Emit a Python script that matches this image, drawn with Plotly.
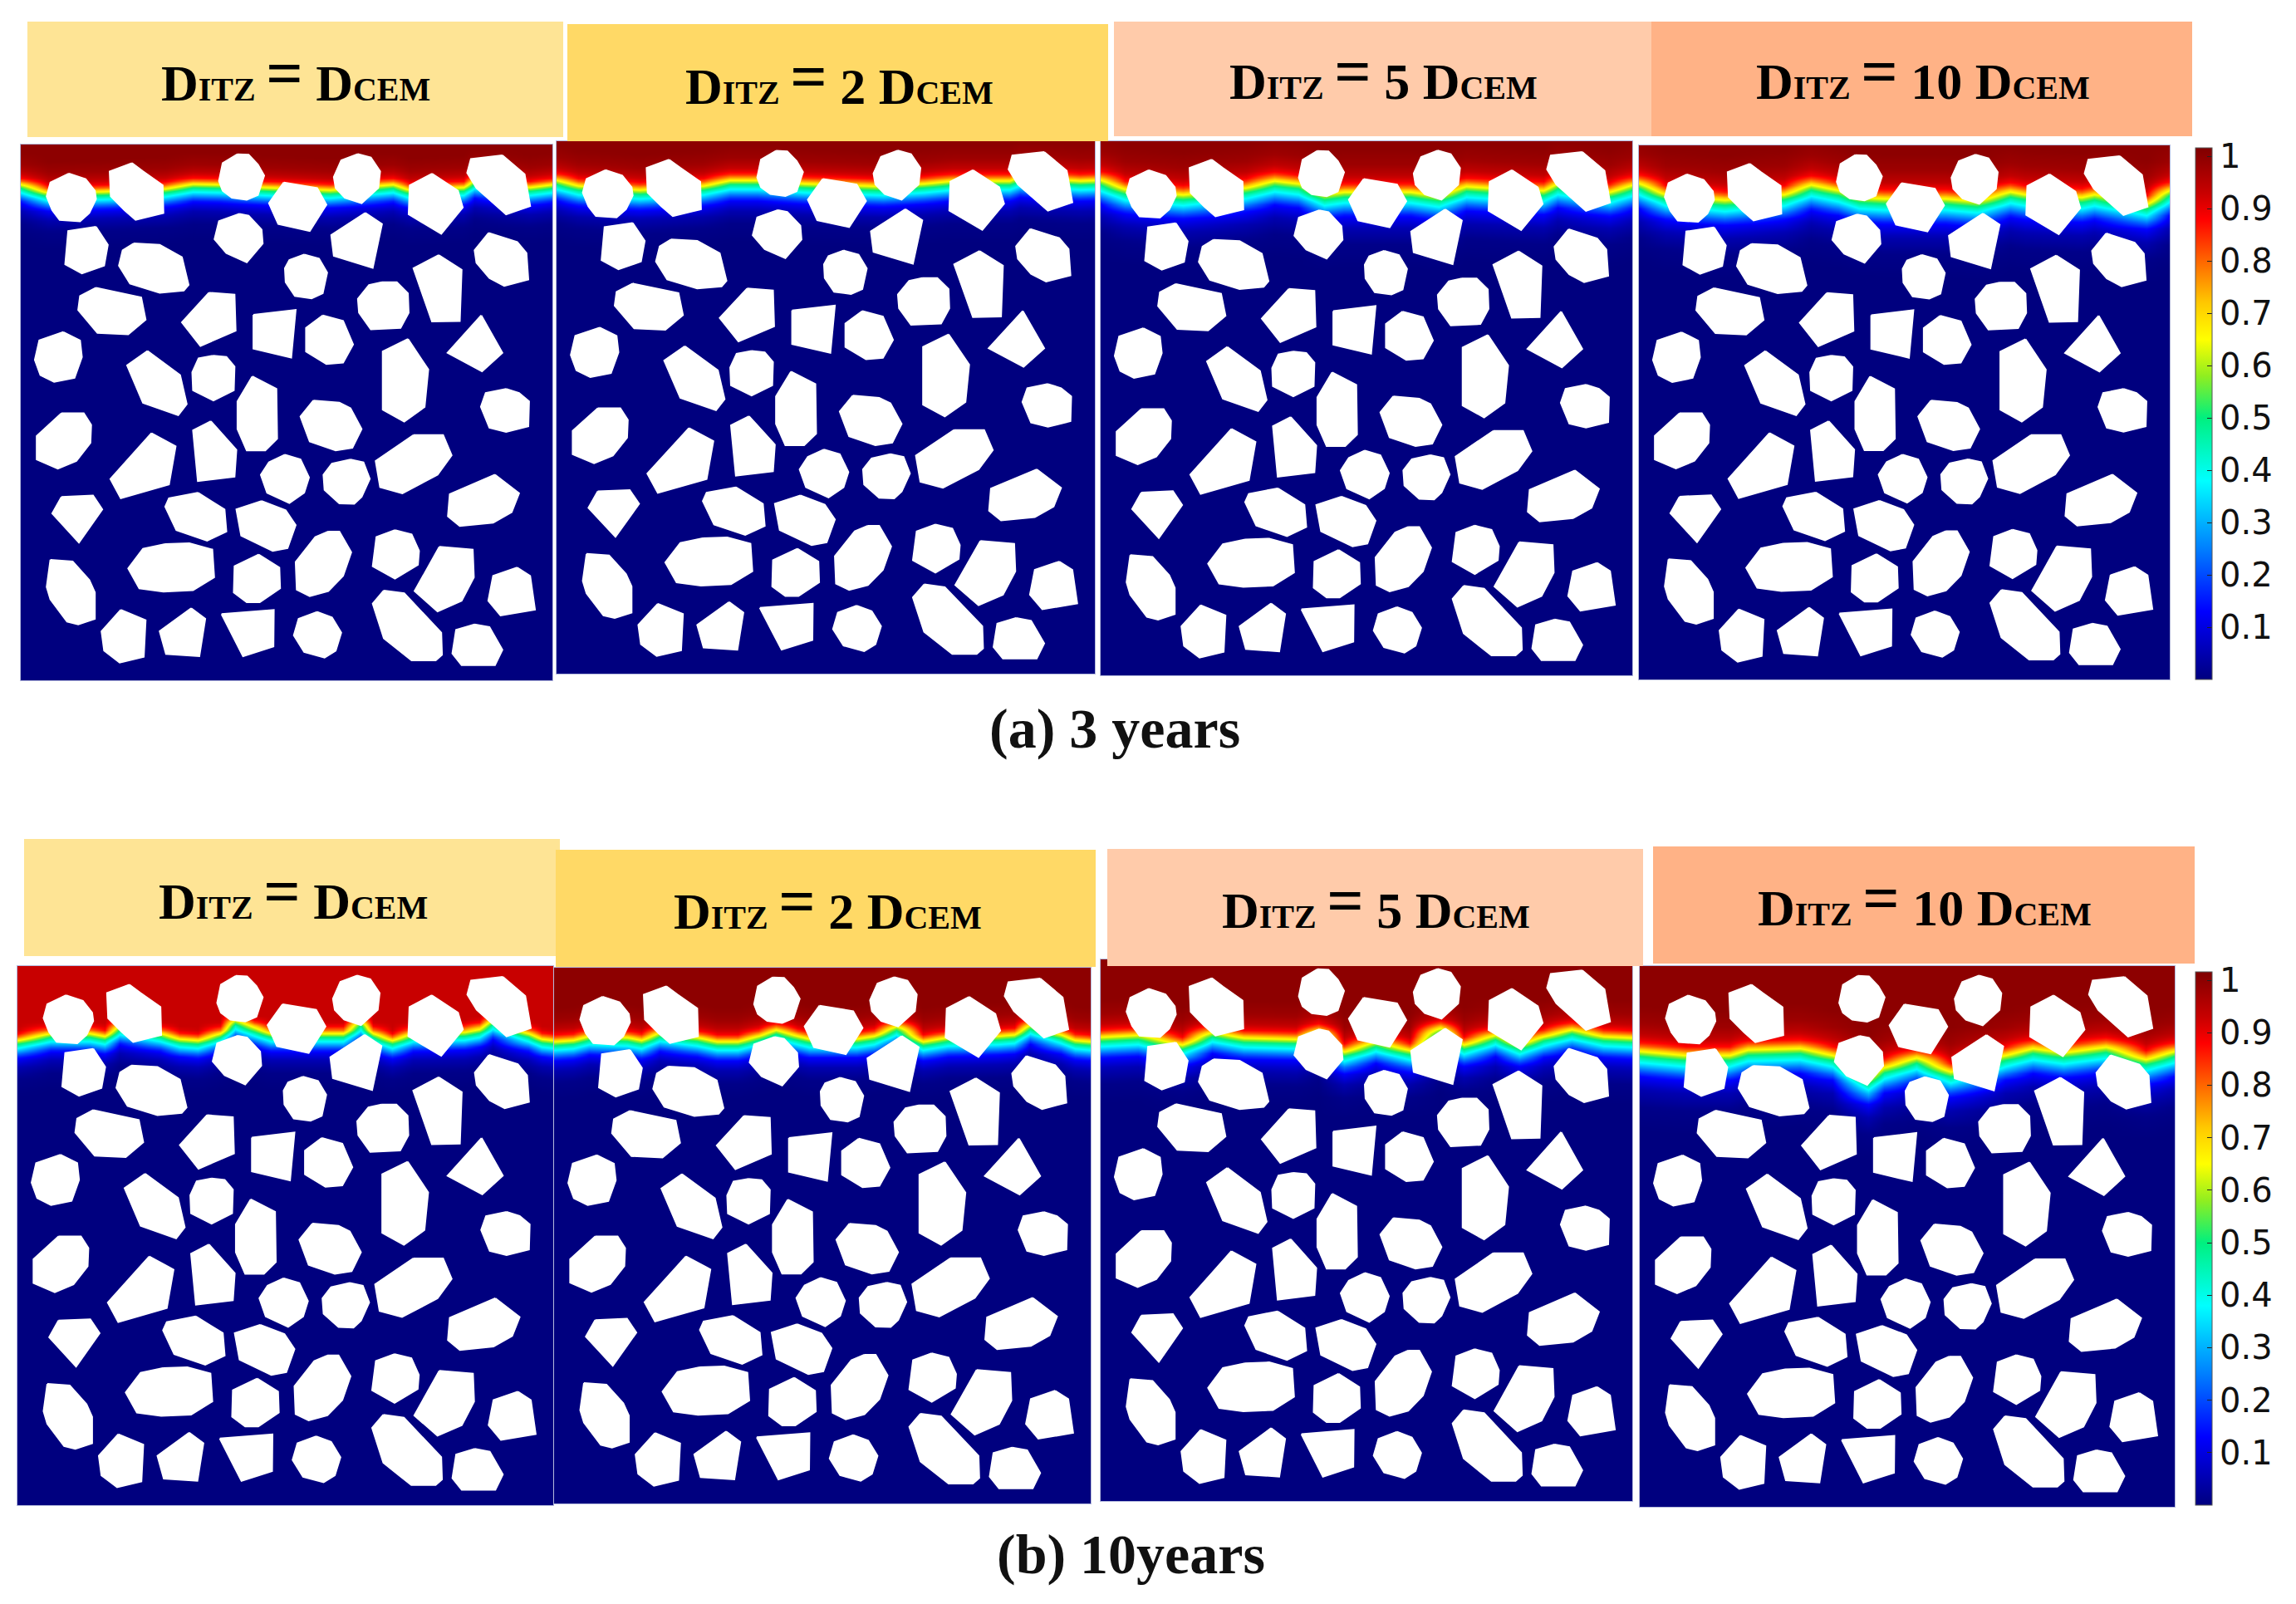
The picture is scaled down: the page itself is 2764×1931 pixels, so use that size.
import numpy as np
import plotly.graph_objects as go

# Canvas size of the reference
W, H = 2764, 1931

# Panel rectangles in canvas pixels: left, right, top, bottom
PANELS = [
    (25, 665, 174, 819), (670, 1318, 170, 811), (1325, 1965, 170, 813), (1973, 2612, 175, 818),
    (21, 666, 1163, 1812), (667, 1313, 1165, 1810), (1325, 1965, 1155, 1807), (1974, 2618, 1163, 1814),
]
# Header boxes: left, right, top, bottom, colour
HEADERS = [
    (33, 678, 26, 165, "#FEE495"), (683, 1334, 29, 170, "#FFD966"), (1341, 1988, 26, 164, "#FFCBAA"), (1988, 2639, 26, 164, "#FFB286"),
    (29, 674, 1010, 1151, "#FEE495"), (669, 1319, 1023, 1164, "#FFD966"), (1333, 1978, 1022, 1163, "#FFCBAA"), (1990, 2642, 1019, 1160, "#FFB286"),
]
HEADER_MULT = ["", "2 ", "5 ", "10 ", "", "2 ", "5 ", "10 "]
HEADER_CX = [356, 1010, 1665, 2315, 353, 996, 1656, 2317]
HEADER_CY = [89, 93, 87, 87, 1074, 1086, 1085, 1082]

CAPTIONS = ["(a) 3 years", "(b) 10years"]
CAPTION_X = [1342, 1361]
CAPTION_Y = [877, 1871]

# Colour table of the scale
CB_MAX = 1.016
CB_VALUES = [0, 0.13, 0.25, 0.38, 0.5, 0.58, 0.65, 0.72, 0.8, 0.88, 0.93, 1.016]
CB_COLORS = ["#00007f", "#0000ff", "#007fff", "#00ffff", "#00f07f", "#90ee20", "#ffff00", "#ffc800",
             "#ff6600", "#ff0000", "#c80000", "#7f0000"]
TICKS = [0.1, 0.2, 0.3, 0.4, 0.5, 0.6, 0.7, 0.8, 0.9, 1]
TICK_TEXT = ["0.1", "0.2", "0.3", "0.4", "0.5", "0.6", "0.7", "0.8", "0.9", "1"]

# Concentration against distance from the 0.5 isoline
PROFILE_OFFSET = [-150, -100, -65, -42, -28, -14, 0, 12, 22, 40, 60, 100, 150, 220]
PROFILE_VALUE = [1.0, 0.98, 0.94, 0.88, 0.78, 0.64, 0.5, 0.42, 0.36, 0.24, 0.13, 0.05, 0.01, 0.0]
BAND_SCALE = [0.85, 0.95, 1.15, 1.2, 0.85, 0.9, 1.0, 1.2]
PLATEAU = [1.0, 1.0, 1.0, 1.0, 0.93, 1.0, 1.0, 1.0]

# Position of the 0.5 isoline in each panel (x stations, depth)
FRONT_X = [
    [55, 130, 280, 445, 520, 590, 710, 890, 1060, 1105, 1250, 1280, 1430, 1490],
    [55, 112, 277, 446, 517, 592, 715, 925, 1036, 1111, 1262, 1290, 1450, 1490],
    [55, 121, 277, 447, 523, 589, 658, 712, 891, 967, 1042, 1099, 1250, 1288, 1430, 1490],
    [55, 126, 287, 448, 519, 594, 651, 717, 883, 968, 1058, 1100, 1251, 1285, 1427, 1490],
    [55, 143, 248, 288, 328, 438, 488, 538, 598, 638, 688, 733, 878, 928, 973, 1008, 1058, 1113, 1253, 1293, 1328, 1423, 1458, 1490],
    [55, 106, 148, 251, 289, 336, 438, 490, 546, 602, 649, 705, 738, 864, 911, 971, 1041, 1107, 1242, 1285, 1327, 1411, 1448, 1490],
    [55, 157, 275, 355, 440, 582, 643, 713, 798, 888, 972, 1034, 1119, 1185, 1251, 1326, 1411, 1490],
    [55, 177, 296, 344, 484, 571, 668, 711, 797, 889, 1035, 1110, 1191, 1304, 1412, 1490],
]
FRONT_Y = [
    [680, 710, 705, 695, 678, 680, 690, 700, 680, 700, 690, 665, 690, 680],
    [678, 698, 713, 698, 678, 678, 690, 700, 690, 680, 680, 665, 680, 678],
    [680, 713, 733, 708, 683, 693, 733, 723, 723, 738, 703, 708, 718, 693, 723, 698],
    [678, 718, 738, 718, 683, 703, 728, 733, 733, 743, 708, 718, 728, 718, 753, 703],
    [801, 776, 776, 786, 751, 776, 796, 801, 776, 731, 756, 776, 776, 776, 736, 776, 801, 776, 771, 761, 731, 776, 796, 801],
    [803, 798, 783, 788, 798, 771, 788, 803, 803, 783, 761, 783, 793, 793, 783, 748, 803, 788, 783, 778, 743, 778, 798, 803],
    [815, 808, 843, 798, 818, 823, 793, 868, 833, 863, 783, 843, 808, 843, 813, 788, 813, 818],
    [845, 860, 860, 840, 835, 860, 944, 904, 869, 919, 860, 835, 850, 830, 875, 845],
]

# Aggregates, in the depth/width units of the axes
AGGREGATES_UPPER = [
    [(185,628),(230,648),(255,690),(258,720),(240,770),(215,800),(160,795),(140,760),(125,710),(135,660)],
    [(355,590),(385,620),(438,670),(440,770),(365,795),(335,760),(298,710),(295,620)],
    [(640,558),(670,560),(695,595),(712,635),(695,705),(665,722),(625,715),(600,690),(590,655),(600,590)],
    [(765,660),(855,680),(880,740),(835,835),(750,810),(725,735)],
    [(965,557),(1000,570),(1025,620),(1020,680),(975,735),(930,715),(905,680),(900,640),(920,580)],
    [(1165,628),(1235,690),(1248,750),(1190,845),(1102,775),(1105,670)],
    [(1355,562),(1415,630),(1430,745),(1365,775),(1285,680),(1260,625),(1270,575)],
    [(258,820),(290,885),(280,960),(220,988),(175,955),(183,835)],
    [(360,880),(430,885),(490,930),(508,1030),(495,1050),(430,1058),(350,1025),(320,960),(330,905)],
    [(645,773),(670,780),(705,830),(708,880),(665,948),(610,915),(578,865),(590,800)],
    [(985,770),(1030,810),(1005,968),(900,925),(893,850)],
    [(820,920),(860,935),(882,985),(870,1060),(840,1078),(795,1070),(770,1020),(768,970),(780,940)],
    [(1318,842),(1395,875),(1420,915),(1425,1010),(1360,1033),(1320,1005),(1285,950),(1280,905)],
    [(1183,922),(1245,975),(1240,1160),(1165,1162),(1115,970)],
    [(258,1040),(380,1075),(392,1155),(345,1208),(262,1203),(210,1120),(215,1070)],
    [(563,1058),(632,1065),(635,1195),(540,1250),(490,1165)],
    [(1030,1020),(1070,1020),(1100,1060),(1102,1130),(1080,1185),(1000,1190),(968,1130),(965,1080),(995,1030)],
    [(683,1138),(797,1120),(785,1292),(683,1260)],
    [(870,1140),(925,1160),(952,1245),(925,1310),(880,1315),(825,1270),(825,1185)],
    [(1298,1140),(1355,1275),(1300,1342),(1207,1275)],
    [(170,1200),(215,1230),(220,1290),(200,1365),(145,1380),(108,1355),(93,1300),(105,1230)],
    [(397,1268),(485,1355),(503,1460),(480,1500),(385,1455),(342,1320)],
    [(575,1285),(610,1290),(632,1325),(630,1410),(575,1447),(520,1410),(518,1345),(535,1295)],
    [(680,1360),(745,1405),(747,1585),(715,1627),(665,1627),(640,1550),(640,1450)],
    [(1100,1225),(1155,1335),(1145,1470),(1090,1523),(1032,1480),(1032,1270)],
]
AGGREGATES_LOWER = [
    [(1365,1405),(1400,1420),(1427,1450),(1425,1540),(1365,1560),(1320,1545),(1297,1470),(1310,1420)],
    [(845,1447),(915,1455),(945,1475),(975,1550),(950,1618),(905,1627),(835,1595),(810,1505)],
    [(165,1493),(225,1493),(245,1535),(243,1600),(205,1665),(155,1693),(98,1660),(98,1575)],
    [(408,1565),(473,1612),(455,1750),(325,1800),(297,1730)],
    [(568,1522),(637,1625),(632,1722),(533,1738),(520,1555)],
    [(768,1643),(810,1660),(833,1725),(820,1780),(780,1817),(720,1780),(703,1715),(725,1670)],
    [(945,1660),(980,1670),(997,1730),(975,1795),(955,1820),(915,1818),(875,1770),(872,1715),(895,1675)],
    [(1115,1572),(1195,1572),(1218,1645),(1180,1715),(1085,1782),(1025,1760),(1013,1665)],
    [(1335,1715),(1400,1782),(1380,1850),(1330,1888),(1240,1900),(1208,1865),(1213,1785)],
    [(165,1795),(250,1790),(275,1840),(212,1960),(140,1855)],
    [(533,1780),(605,1840),(610,1920),(558,1953),(475,1915),(445,1830),(455,1800)],
    [(705,1810),(770,1843),(797,1897),(775,1980),(735,1990),(650,1935),(637,1840)],
    [(885,1920),(915,1920),(947,1995),(925,2080),(885,2135),(835,2153),(800,2130),(797,2030),(850,1940)],
    [(1065,1915),(1110,1930),(1130,1990),(1127,2040),(1065,2090),(1005,2045),(1015,1940)],
    [(1185,1975),(1275,1985),(1278,2085),(1245,2170),(1180,2208),(1118,2135)],
    [(1395,2050),(1430,2080),(1443,2202),(1350,2223),(1317,2170),(1330,2080)],
    [(445,1965),(510,1962),(572,1985),(577,2085),(520,2132),(440,2137),(375,2125),(345,2053),(385,1982)],
    [(697,2003),(753,2050),(755,2125),(700,2175),(665,2175),(630,2140),(632,2045)],
    [(135,2022),(195,2028),(240,2095),(255,2140),(255,2235),(210,2255),(180,2245),(135,2165),(125,2120)],
    [(325,2203),(392,2240),(387,2372),(322,2393),(280,2350),(273,2280)],
    [(515,2197),(553,2235),(537,2370),(447,2362),(430,2280)],
    [(597,2218),(738,2203),(737,2335),(655,2370)],
    [(855,2210),(895,2230),(920,2285),(905,2350),(875,2375),(820,2355),(792,2295),(805,2235)],
    [(1035,2133),(1090,2143),(1190,2285),(1192,2365),(1175,2385),(1110,2385),(1035,2305),(1005,2180)],
    [(1280,2255),(1320,2265),(1355,2347),(1335,2402),(1245,2402),(1220,2360),(1230,2275)],
]
AGGREGATES = AGGREGATES_UPPER + AGGREGATES_LOWER

X_RANGE = [55, 1490]
Y_RANGE = [2457, 523]
DEPTHS = list(range(523, 2470, 12))

colorscale = [[v / CB_MAX, c] for v, c in zip(CB_VALUES, CB_COLORS)]
poly_x, poly_y = [], []
for poly in AGGREGATES:
    poly_x += [p[0] for p in poly] + [poly[0][0], None]
    poly_y += [p[1] for p in poly] + [poly[0][1], None]

fig = go.Figure()
layout = dict(
    width=W, height=H, autosize=False, margin=dict(l=0, r=0, t=0, b=0),
    paper_bgcolor="white", plot_bgcolor="white", showlegend=False,
)
shapes, annotations = [], []

for i, (l, r, t, b) in enumerate(PANELS):
    n = "" if i == 0 else str(i + 1)
    layout["xaxis" + n] = dict(domain=[l / W, r / W], range=X_RANGE, anchor="y" + n, visible=True,
                               showticklabels=False, ticks="", showgrid=False, zeroline=False,
                               showline=True, mirror=True, linecolor="#b4b9dc", linewidth=1, fixedrange=True)
    layout["yaxis" + n] = dict(domain=[1 - b / H, 1 - t / H], range=Y_RANGE, anchor="x" + n, visible=True,
                               showticklabels=False, ticks="", showgrid=False, zeroline=False,
                               showline=True, mirror=True, linecolor="#b4b9dc", linewidth=1, fixedrange=True)
    fx, fy = FRONT_X[i], FRONT_Y[i]
    z = [[min(PLATEAU[i], float(np.interp((d - f) / BAND_SCALE[i], PROFILE_OFFSET, PROFILE_VALUE))) for f in fy]
         for d in DEPTHS]
    show = i in (3, 7)
    cb = None
    if show:
        cb_top, cb_bot = (178, 818) if i == 3 else (1170, 1812)
        cb = dict(x=2643 / W, xanchor="left", xpad=0, ypad=0, y=1 - cb_top / H, yanchor="top",
                  lenmode="pixels", len=cb_bot - cb_top, thicknessmode="pixels", thickness=20,
                  tickvals=TICKS, ticktext=TICK_TEXT, tickprefix="\u2009", ticks="inside", ticklen=6, tickcolor="#222",
                  tickfont=dict(family="DejaVu Sans", size=40, color="#111"),
                  outlinewidth=1, outlinecolor="#555", borderwidth=0)
    fig.add_trace(go.Heatmap(x=fx, y=DEPTHS, z=z, zmin=0, zmax=CB_MAX, zsmooth="best",
                             colorscale=colorscale, showscale=show, colorbar=cb,
                             hoverinfo="skip", xaxis="x" + n, yaxis="y" + n))
    fig.add_trace(go.Scatter(x=poly_x, y=poly_y, mode="lines", fill="toself", fillcolor="white",
                             line=dict(color="white", width=2), hoverinfo="skip",
                             xaxis="x" + n, yaxis="y" + n))
    hl, hr, ht, hb, hc = HEADERS[i]
    shapes.append(dict(type="rect", xref="paper", yref="paper", x0=hl / W, x1=hr / W,
                       y0=1 - hb / H, y1=1 - ht / H, fillcolor=hc, line=dict(width=0), layer="above"))
    big = '<span style="font-size:62px">D</span>'
    small = '<span style="font-size:40px">%s</span>'
    text = ("<b>" + big + small % "ITZ"
            + '<span style="font-size:50px">\u00a0</span>'
            + '<span style="font-size:78px;baseline-shift:7px">=</span>'
            + '<span style="font-size:62px"> ' + HEADER_MULT[i] + "</span>" + big + small % "CEM" + "</b>")
    annotations.append(dict(x=HEADER_CX[i] / W, y=1 - HEADER_CY[i] / H, xref="paper", yref="paper",
                            text=text, showarrow=False, xanchor="center", yanchor="middle",
                            font=dict(family="Liberation Serif", size=62, color="black")))

for txt, cx, cy in zip(CAPTIONS, CAPTION_X, CAPTION_Y):
    annotations.append(dict(x=cx / W, y=1 - cy / H, xref="paper", yref="paper",
                            text="<b>%s</b>" % txt, showarrow=False, xanchor="center", yanchor="middle",
                            font=dict(family="Liberation Serif", size=68, color="#111")))

layout["shapes"] = shapes
layout["annotations"] = annotations
fig.update_layout(**layout)
fig.write_html("out.html", post_script="document.body.style.margin='0';document.documentElement.style.overflow='hidden';",
               config={"displayModeBar": False})
